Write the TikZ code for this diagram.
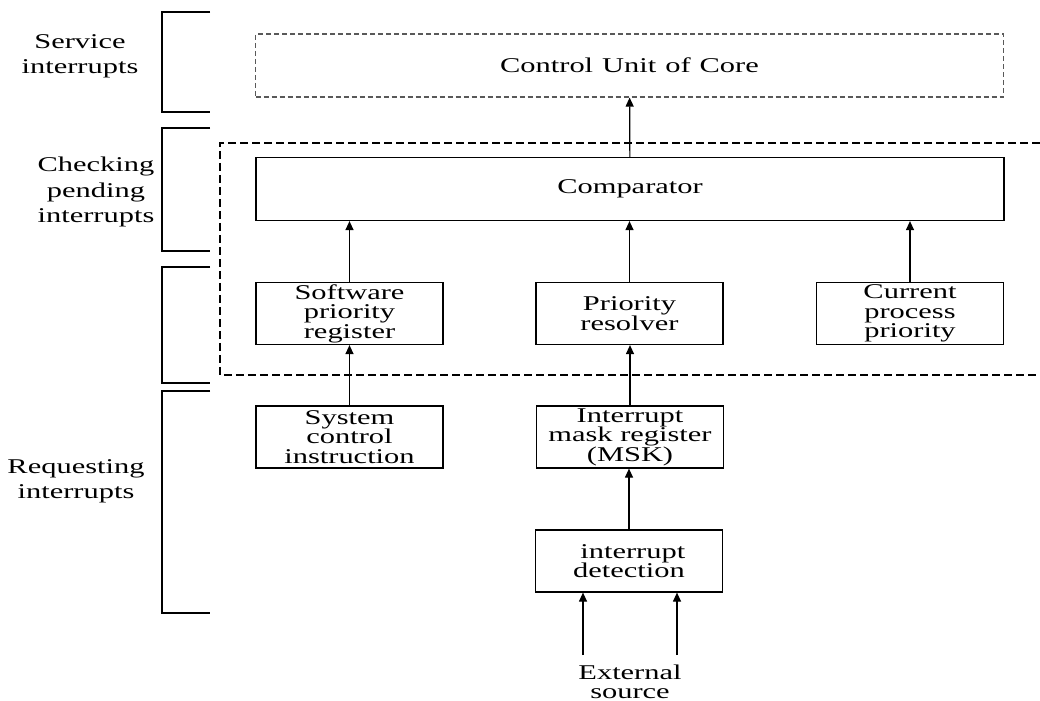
\documentclass[tikz,border=0pt]{standalone}
\usepackage{fontspec}
\setmainfont[FakeStretch=1.45]{Liberation Serif}
\usetikzlibrary{arrows.meta}
\begin{document}
\begin{tikzpicture}[x=0.5pt,y=-0.5pt,
  blk/.style={draw,line width=0.6pt,inner sep=0pt,align=center,
    minimum width=93.5pt,minimum height=31pt,font=\fontsize{10.5}{9.75}\selectfont},
  wide/.style={blk,minimum width=374pt,minimum height=31.5pt},
  lbl/.style={align=center,inner sep=0pt,font=\fontsize{10.5}{12.6}\selectfont},
  arr/.style={-{Triangle[length=4.5pt,width=4pt]},line width=0.6pt},
  brace/.style={line width=0.6pt}]
\useasboundingbox (0,0) rectangle (1040,701);
% stage brackets
\draw[brace] (210,12) -| (162,112) -- (210,112);
\draw[brace] (210,128) -| (162,251) -- (210,251);
\draw[brace] (210,267) -| (162,383) -- (210,383);
\draw[brace] (210,391) -| (162,613) -- (210,613);
\node[lbl] (lsrv) at (80,56) {Service\\interrupts};
\node[lbl] (lchk) at (96,192) {Checking\\pending\\interrupts};
\node[lbl] (lreq) at (76,481) {Requesting\\interrupts};
% core part
\draw[dashed,dash pattern=on 4pt off 2pt,line width=0.6pt]
  (1040,143) -- (220,143) -- (220,375) -- (1040,375);
\node[wide,draw=black!65,dash pattern=on 2.5pt off 1.5pt,
  font={\fontsize{10.5}{9.75}\selectfont\spaceskip=4.5pt}] (cu) at (629.5,65.5) {Control Unit of Core};
\node[wide] (comp) at (630,189) {Comparator};
\node[blk] (spr) at (349.5,313.5) {Software\\priority\\register};
\node[blk] (pres) at (629.5,313.5) {Priority\\resolver};
\node[blk] (cpp) at (910,313.5) {Current\\process\\priority};
% request part
\node[blk] (sci) at (349.5,437) {System\\control\\instruction};
\node[blk] (msk) at (630,437) {Interrupt\\mask register\\(MSK)};
\node[blk] (det) at (629,561) {\ interrupt\\detection};
\node[lbl,font=\fontsize{10.5}{9.75}\selectfont] (ext) at (630,682) {External\\source};
\coordinate (src1) at (583,655);
\coordinate (src2) at (677,655);
% arrows
\draw[arr] (comp) -- (cu);
\draw[arr] (spr) -- (spr |- comp.south);
\draw[arr] (pres) -- (pres |- comp.south);
\draw[arr] (cpp) -- (cpp |- comp.south);
\draw[arr] (sci) -- (spr);
\draw[arr] (msk) -- (msk |- pres.south);
\draw[arr] (det) -- (det |- msk.south);
\draw[arr] (src1) -- (src1 |- det.south);
\draw[arr] (src2) -- (src2 |- det.south);
\end{tikzpicture}
\end{document}
